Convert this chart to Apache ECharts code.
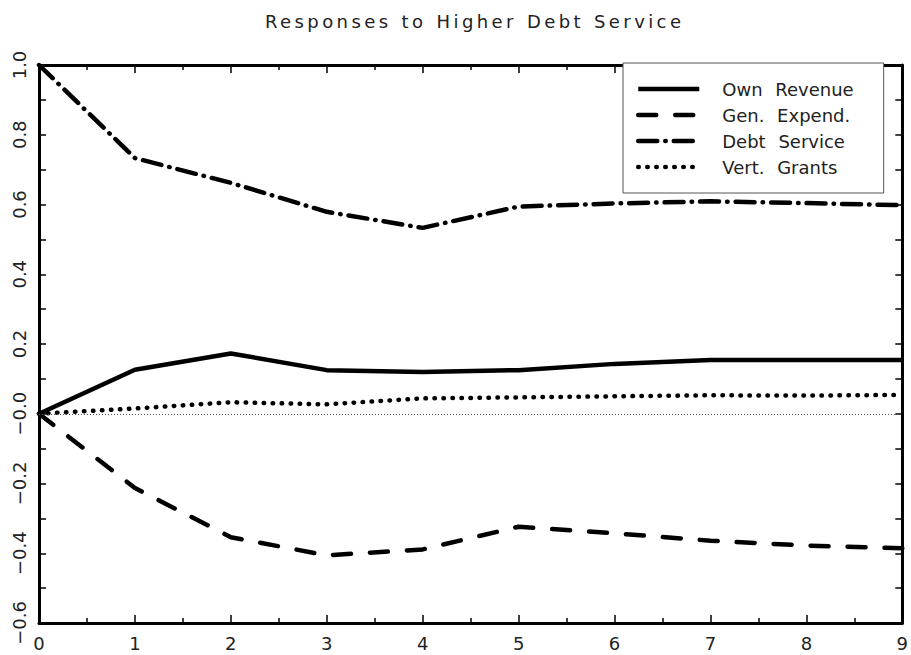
<!DOCTYPE html>
<html>
<head>
<meta charset="utf-8">
<script src="https://cdn.jsdelivr.net/npm/echarts@6/dist/echarts.min.js"></script>
<style>
html,body{margin:0;padding:0;background:#fff;}
#c{width:911px;height:655px;}
#c text{word-spacing:7px;}
</style>
</head>
<body>
<div id="c"></div>
<script>
var titleText = 'Responses to Higher Debt Service';
var steps = [0, 1, 2, 3, 4, 5, 6, 7, 8, 9];
var ownRevenue = [0, 0.126, 0.173, 0.125, 0.120, 0.125, 0.143, 0.154, 0.154, 0.154];
var genExpend = [0, -0.213, -0.354, -0.406, -0.389, -0.324, -0.343, -0.364, -0.378, -0.386];
var debtService = [1.0, 0.733, 0.662, 0.579, 0.533, 0.594, 0.603, 0.609, 0.604, 0.598];
var vertGrants = [0, 0.015, 0.033, 0.027, 0.044, 0.047, 0.050, 0.053, 0.052, 0.054];
var seriesNames = ['Own Revenue', 'Gen. Expend.', 'Debt Service', 'Vert. Grants'];
var yTickValues = [1.0, 0.8, 0.6, 0.4, 0.2, 0.0, -0.2, -0.4, -0.6];
var yTickLabels = ['1.0', '0.8', '0.6', '0.4', '0.2', '\u22120.0', '\u22120.2', '\u22120.4', '\u22120.6'];

function pairs(vals) { return steps.map(function (s, i) { return [s, vals[i]]; }); }
function yLabel(v) {
  for (var i = 0; i < yTickValues.length; i++) {
    if (Math.abs(yTickValues[i] - v) < 1e-6) return yTickLabels[i];
  }
  return '';
}

var FONT = 'DejaVu Sans';
var TXT = '#222';
var W = 4.5;
var axisLine = { show: true, onZero: false, lineStyle: { color: '#000', width: 3 } };
var tick = { show: true, inside: true, length: 8, lineStyle: { color: '#000', width: 1.5 } };
var xMinor = { show: true, splitNumber: 2, length: 5, lineStyle: { color: '#000', width: 1.5 } };
var yTick = { show: true, inside: true, length: 7, lineStyle: { color: '#000', width: 1.5 } };
var yMinor = { show: true, splitNumber: 2, length: 7, lineStyle: { color: '#000', width: 1.5 } };

var chart = echarts.init(document.getElementById('c'), null, { renderer: 'svg' });
chart.setOption({
  backgroundColor: '#fff',
  animation: false,
  title: {
    text: titleText, left: 260, top: 7,
    textStyle: { fontFamily: FONT, fontSize: 18, fontWeight: 'normal', color: TXT }
  },
  legend: {
    orient: 'vertical', left: 623, top: 63,
    padding: [17, 37, 17, 13], itemGap: 8,
    itemWidth: 61, itemHeight: 18,
    borderColor: '#555', borderWidth: 1, backgroundColor: '#fff',
    itemStyle: { opacity: 0 },
    lineStyle: { width: W },
    textStyle: { fontFamily: FONT, fontSize: 18, color: TXT, padding: [0, 0, 0, 18] },
    data: seriesNames
  },
  grid: { left: 39, right: 8, top: 65, bottom: 32, containLabel: false },
  xAxis: [
    {
      type: 'value', min: 0, max: 9, interval: 1, position: 'bottom',
      axisLine: axisLine, axisTick: tick, minorTick: xMinor,
      axisLabel: { fontFamily: FONT, fontSize: 18, color: TXT, margin: 11 },
      splitLine: { show: false }
    },
    {
      type: 'value', min: 0, max: 9, interval: 1, position: 'top',
      axisLine: axisLine, axisTick: tick, minorTick: xMinor,
      axisLabel: { show: false },
      splitLine: { show: false }
    }
  ],
  yAxis: [
    {
      type: 'value', min: -0.6, max: 1.0, interval: 0.2, position: 'left',
      axisLine: axisLine, axisTick: yTick, minorTick: yMinor,
      axisLabel: { fontFamily: FONT, fontSize: 18, color: TXT, rotate: 90, margin: 11, formatter: yLabel },
      splitLine: { show: false }
    },
    {
      type: 'value', min: -0.6, max: 1.0, interval: 0.2, position: 'right',
      axisLine: axisLine, axisTick: yTick, minorTick: yMinor,
      axisLabel: { show: false },
      splitLine: { show: false }
    }
  ],
  series: [
    {
      name: seriesNames[0], type: 'line', data: pairs(ownRevenue), symbol: 'none', color: '#000',
      lineStyle: { color: '#000', width: W, type: 'solid' },
      markLine: {
        silent: true, symbol: 'none', label: { show: false },
        lineStyle: { color: '#555', width: 1, type: [1, 2] },
        data: [{ yAxis: 0 }]
      },
      z: 3
    },
    {
      name: seriesNames[1], type: 'line', data: pairs(genExpend), symbol: 'none', color: '#000',
      lineStyle: { color: '#000', width: W, type: [18, 19], cap: 'round' },
      z: 3
    },
    {
      name: seriesNames[2], type: 'line', data: pairs(debtService), symbol: 'none', color: '#000',
      lineStyle: { color: '#000', width: W, type: [19, 8, 0.5, 8], cap: 'round' },
      z: 3
    },
    {
      name: seriesNames[3], type: 'line', data: pairs(vertGrants), symbol: 'none', color: '#000',
      lineStyle: { color: '#000', width: W, type: [0.5, 8.5], cap: 'round' },
      z: 3
    }
  ]
});

function spaceTitle() {
  var texts = document.querySelectorAll('#c text');
  for (var i = 0; i < texts.length; i++) {
    if (texts[i].textContent === titleText) {
      texts[i].style.letterSpacing = '3.4px';
      texts[i].style.wordSpacing = '1px';
    }
  }
}
spaceTitle();
chart.on('finished', spaceTitle);
setTimeout(spaceTitle, 0);
</script>
</body>
</html>
